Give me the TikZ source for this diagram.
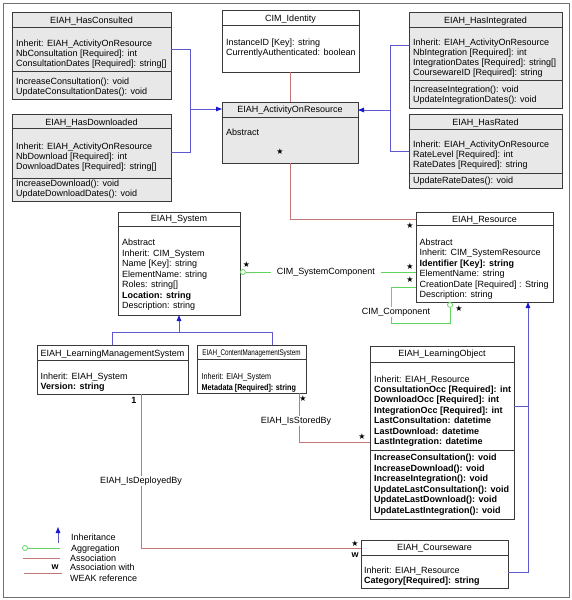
\documentclass[tikz,border=0pt]{standalone}
\usepackage{fontspec}
\usepackage{graphicx}
\setmainfont{Liberation Sans}
\newfontfamily\symfont{DejaVu Sans}
\usetikzlibrary{arrows.meta,calc}
\definecolor{boxgray}{HTML}{E8E8E8}
\definecolor{edge}{HTML}{3A3A3A}
\definecolor{inhblue}{HTML}{5E5ACB}
\definecolor{tipblue}{HTML}{1A1AD0}
\definecolor{assoc}{HTML}{C27676}
\definecolor{aggr}{HTML}{62D462}
\definecolor{frame}{HTML}{707070}
\tikzset{
 cls/.style={draw=edge, line width=0.9pt, rectangle, inner sep=0, outer sep=0, fill=white},
 grayfill/.style={fill=boxgray},
 divider/.style={draw=edge, line width=0.8pt},
 txt/.style={anchor=base west, inner sep=0, font=\fontsize{9}{10}\selectfont},
 ttl/.style={anchor=base, inner sep=0, font=\fontsize{9}{10}\selectfont},
 inh/.style={draw=inhblue, line width=0.9pt},
 inharrow/.style={inh, -{Triangle[length=6pt,width=4.5pt,color=tipblue]}},
 asc/.style={draw=assoc, line width=0.9pt},
 agg/.style={draw=aggr, line width=0.9pt},
 aggend/.style={circle, draw=aggr, fill=white, line width=0.8pt, minimum size=5pt, inner sep=0},
 mult/.style={inner sep=0, font=\symfont\fontsize{8}{8}\selectfont},
 lbl/.style={inner xsep=2pt, inner ysep=1pt, fill=white, font=\fontsize{9}{10}\selectfont},
 bmark/.style={inner sep=0, font=\bfseries\fontsize{9}{10}\selectfont},
}
\newcommand\umlbox[6][]{\node[cls,#1,minimum width={#4-#2},minimum height={#5-#3}] (#6) at ({(#2+#4)/2},{(#3+#5)/2}) {};}
\newcommand\cltext[6][]{\foreach \t [count=\i from 0] in {#6} {\node[txt,#1] (#2-\i) at (#3,{#4+#5*\i}) {\t};}}
\newcommand\divline[2]{\draw[divider] (#1.west |- 0,#2) -- (#1.east |- 0,#2);}
\begin{document}
\begin{tikzpicture}[x=1pt,y=-1pt]
\useasboundingbox (0,0) rectangle (571,600);
\draw[frame, line width=0.9pt] (3,3) rectangle (569,597.5);

% ---------- boxes ----------
% EIAH_HasConsulted
\umlbox[grayfill]{12}{12}{171}{99}{hc}
\divline{hc}{27}\divline{hc}{71}
\node[ttl] (hc-t) at (hc.north |- 0,23) {EIAH\_HasConsulted};
\cltext{hca}{16}{46.5}{10}{Inherit: EIAH\_ActivityOnResource,NbConsultation [Required]: int,ConsultationDates [Required]: string[]}
\cltext{hcm}{16}{84}{10}{IncreaseConsultation(): void,UpdateConsultationDates(): void}

% EIAH_HasDownloaded
\umlbox[grayfill]{12}{114}{171}{201}{hd}
\divline{hd}{128}\divline{hd}{178}
\node[ttl] (hd-t) at (hd.north |- 0,125) {EIAH\_HasDownloaded};
\cltext{hda}{16}{149}{10}{Inherit: EIAH\_ActivityOnResource,NbDownload [Required]: int,DownloadDates [Required]: string[]}
\cltext{hdm}{16}{186}{10}{IncreaseDownload(): void,UpdateDownloadDates(): void}

% CIM_Identity
\umlbox{222}{10}{359}{72}{id}
\divline{id}{25}
\node[ttl] (id-t) at (id.north |- 0,21.5) {CIM\_Identity};
\cltext{ida}{226}{45}{10}{InstanceID [Key]: string,CurrentlyAuthenticated: boolean}

% EIAH_ActivityOnResource
\umlbox[grayfill]{222}{102}{358}{163}{act}
\divline{act}{117}
\node[ttl] (act-t) at (act.north |- 0,112.5) {EIAH\_ActivityOnResource};
\node[txt] (act-a) at (226,135.5) {Abstract};
\node[mult] (act-m) at (280,152) {★};

% EIAH_HasIntegrated
\umlbox[grayfill]{409}{12}{562}{108}{hi}
\divline{hi}{27}\divline{hi}{80}
\node[ttl] (hi-t) at (hi.north |- 0,23.5) {EIAH\_HasIntegrated};
\cltext{hia}{413}{45.5}{10}{Inherit: EIAH\_ActivityOnResource,NbIntegration [Required]: int,IntegrationDates [Required]: string[],CoursewareID [Required]: string}
\cltext{him}{413}{92}{10}{IncreaseIntegration(): void,UpdateIntegrationDates(): void}

% EIAH_HasRated
\umlbox[grayfill]{409}{114}{562}{188}{hr}
\divline{hr}{129}\divline{hr}{173}
\node[ttl] (hr-t) at (hr.north |- 0,125) {EIAH\_HasRated};
\cltext{hra}{413}{147.5}{10}{Inherit: EIAH\_ActivityOnResource,RateLevel [Required]: int,RateDates [Required]: string}
\cltext{hrm}{413}{183.5}{10}{UpdateRateDates(): void}

% EIAH_System
\umlbox{118}{212}{240}{315}{sys}
\divline{sys}{226}
\node[ttl] (sys-t) at (sys.north |- 0,221.5) {EIAH\_System};
\cltext{sysa}{122}{245.5}{10.5}{Abstract,Inherit: CIM\_System,Name [Key]: string,ElementName: string,Roles: string[],\textbf{Location: string},Description: string}

% EIAH_Resource
\umlbox{416}{212}{553}{302}{res}
\divline{res}{225}
\node[ttl] (res-t) at (res.north |- 0,222) {EIAH\_Resource};
\cltext{resa}{419.5}{245.5}{10.4}{Abstract,Inherit: CIM\_SystemResource,\textbf{Identifier [Key]: string},ElementName: string,CreationDate [Required] : String,Description: string}

% EIAH_LearningManagementSystem
\umlbox{37}{345}{188}{394}{lms}
\divline{lms}{360}
\node[ttl] (lms-t) at (lms.north |- 0,356) {EIAH\_LearningManagementSystem};
\cltext{lmsa}{40.5}{379}{10.5}{Inherit: EIAH\_System,\textbf{Version: string}}

% EIAH_ContentManagementSystem
\umlbox{197}{345}{306}{393}{cms}
\divline{cms}{359}
\node[ttl] (cms-t) at (cms.north |- 0,355.5) {\scalebox{0.7}[0.92]{EIAH\_ContentManagementSystem}};
\cltext{cmsa}{201.5}{379.5}{10.5}{\scalebox{0.8}[0.95]{Inherit: EIAH\_System},\scalebox{0.8}[0.95]{\textbf{Metadata [Required]: string}}}

% EIAH_LearningObject
\umlbox{370}{346}{514}{519}{lo}
\divline{lo}{362}\divline{lo}{450}
\node[ttl] (lo-t) at (lo.north |- 0,356.5) {EIAH\_LearningObject};
\cltext{loa}{374}{382}{10.42}{Inherit: EIAH\_Resource,\textbf{ConsultationOcc [Required]: int},\textbf{DownloadOcc [Required]: int},\textbf{IntegrationOcc [Required]: int},\textbf{LastConsultation: datetime},\textbf{LastDownload: datetime},\textbf{LastIntegration: datetime}}
\cltext{lom}{374}{460.5}{10.5}{\textbf{IncreaseConsultation(): void},\textbf{IncreaseDownload(): void},\textbf{IncreaseIntegration(): void},\textbf{UpdateLastConsultation(): void},\textbf{UpdateLastDownload(): void},\textbf{UpdateLastIntegration(): void}}

% EIAH_Courseware
\umlbox{361}{540}{508}{588}{cw}
\divline{cw}{555}
\node[ttl] (cw-t) at (cw.north |- 0,550) {EIAH\_Courseware};
\cltext{cwa}{364}{573}{10.5}{Inherit: EIAH\_Resource,\textbf{Category[Required]: string}}

% ---------- inheritance ----------
\coordinate (jl) at (190,109);
\draw[inh] (hc.east |- 0,49) -| (jl);
\draw[inh] (hd.east |- 0,152) -| (jl);
\draw[inharrow] (jl) -- (act.west |- jl);
\coordinate (jr) at (390,110);
\draw[inh] (hi.west |- 0,45) -| (jr);
\draw[inh] (hr.west |- 0,151) -| (jr);
\draw[inharrow] (jr) -- (act.east |- jr);
\coordinate (js) at (179,332);
\draw[inh] (lms.north) |- (js);
\draw[inh] (cms.north -| 272,0) |- (js);
\draw[inharrow] (js) -- (sys.south -| js);
\coordinate (jb) at (528,406);
\draw[inh] (lo.east |- jb) -- (jb);
\draw[inh] (cw.east |- 0,572) -| (jb);
\draw[inharrow] (jb) -- (res.south -| jb);

% ---------- associations ----------
\draw[asc] (id.south -| act.north) -- (act.north);
\draw[asc] (act.south) |- (res.west |- 0,219);
\node[mult] (m-res1) at (410,226) {★};

\draw[asc] (lms.south -| 141,0) |- (cw.west |- 0,548);
\node[lbl] (l-dep) at (141,481) {EIAH\_IsDeployedBy};
\node[bmark] (m-lms) at (134,400) {1};
\node[mult] (m-cw) at (355,544) {★};
\node[bmark] (w-cw) at (355,555.5) {w};

\draw[asc] (cms.south -| 299,0) |- (lo.west |- 0,442);
\node[lbl] (l-sto) at (296,421) {EIAH\_IsStoredBy};
\node[mult] (m-cms) at (303,399) {★};
\node[mult] (m-lo) at (362,437) {★};

% ---------- aggregations ----------
\node[aggend, anchor=west] (ag1) at (sys.east |- 0,272) {};
\draw[agg] (ag1.east) -- node[lbl, inner xsep=6pt, pos=0.47] (l-sc) {CIM\_SystemComponent} (res.west |- ag1);
\node[mult] (m-sys) at (246.5,265) {★};
\node[mult] (m-res2) at (410,266.5) {★};

\node[aggend, anchor=north] (ag2) at (res.south -| 450,0) {};
\draw[agg] (res.west |- 0,287) -| (391,323) -| (ag2.south);
\node[lbl] (l-cc) at (396,312) {CIM\_Component};
\node[mult] (m-res3) at (410,280) {★};
\node[mult] (m-res4) at (459,308.5) {★};

% ---------- legend ----------
\coordinate (lg1) at (58,543);
\coordinate (lg2) at (58,527);
\draw[inharrow] (lg1) -- (lg2);
\node[txt] (lt1) at (71,540.5) {Inheritance};
\node[aggend] (lga) at (25,548) {};
\coordinate (lgb) at (60,548);
\draw[agg] (lga) -- (lgb);
\node[txt] (lt2) at (71,551) {Aggregation};
\coordinate (lgc) at (23,558.5);
\coordinate (lgd) at (60,558.5);
\draw[asc] (lgc) -- (lgd);
\node[txt] (lt3) at (70,561.5) {Association};
\node[bmark] (lgw) at (55,567) {w};
\coordinate (lge) at (24,573);
\coordinate (lgf) at (62,573);
\draw[asc] (lge) -- (lgf);
\node[txt] (lt4) at (70,570.5) {Association with};
\node[txt] (lt5) at (70,581) {WEAK reference};
\end{tikzpicture}
\end{document}
